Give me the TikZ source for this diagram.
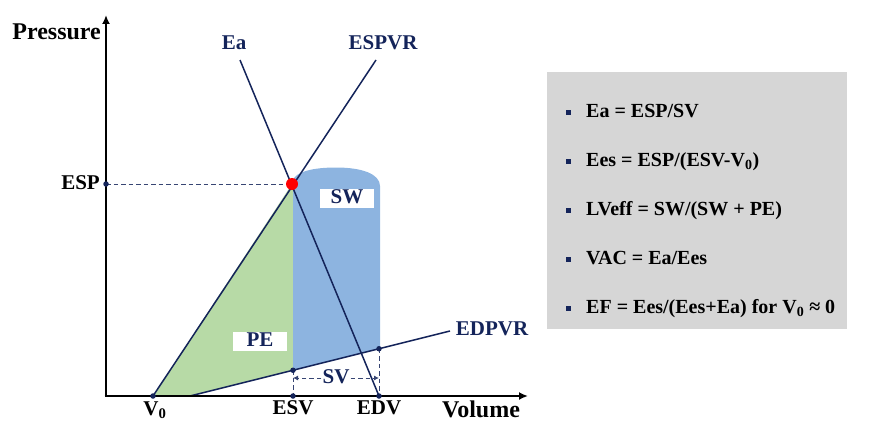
\documentclass[tikz,border=0pt]{standalone}
\usepackage{fontspec}
\setmainfont{Liberation Serif}
\usetikzlibrary{arrows.meta}
\definecolor{navy}{HTML}{14245A}
\definecolor{pegreen}{HTML}{B7DAA6}
\definecolor{swblue}{HTML}{8DB4E0}
\definecolor{boxgray}{HTML}{D6D6D6}
\tikzset{
  lbl/.style={font=\fontsize{21}{24}\selectfont\bfseries, inner sep=1pt, text height=14pt, text depth=4pt},
  biglbl/.style={lbl, font=\fontsize{24}{28}\selectfont\bfseries, text height=16pt},
  navylbl/.style={lbl, text=navy},
  curve/.style={navy, line width=1.5pt},
  axisline/.style={black, line width=2.6pt, -{Latex[length=9pt,width=8pt]}},
  dot/.style={circle, fill=navy, inner sep=0pt, minimum size=5.5pt},
  guide/.style={navy!85, line width=0.9pt, dash pattern=on 4.5pt off 3pt},
  whitebox/.style={lbl, fill=white, text=navy, minimum width=54pt, minimum height=19pt, inner sep=0pt},
  bulletsq/.style={fill=navy, minimum size=5pt, inner sep=0pt},
  item/.style={lbl, font=\fontsize{20}{24}\selectfont\bfseries, anchor=west, text=black}
}
\begin{document}
\begin{tikzpicture}[x=1pt,y=-1pt]
\path[use as bounding box] (0,0) rectangle (869,436);
% key coordinates
\coordinate (O) at (106,396);
\coordinate (ytip) at (106,15);
\coordinate (xtip) at (528,396);
\coordinate (R) at (292,184);
\coordinate (V0) at (153,396);
\coordinate (ESVx) at (293,396);
\coordinate (EDVx) at (379,396);
\coordinate (ESPy) at (106,184);
\coordinate (EsvE) at (293,370.25);
\coordinate (EdvE) at (379,348.75);
\coordinate (EdStart) at (190,396);
\coordinate (EdEnd) at (450,331);
\coordinate (EaTop) at (240,60);
\coordinate (EsTop) at (376,60);
% fills
\fill[pegreen] (V0) -- (R) -- (295,184) -- (295,370) -- (EdStart) -- cycle;
\fill[swblue] (293,184) -- (EsvE) -- (380,348.5) -- (380,186)
  .. controls (380,174) and (362,167.5) .. (336,167.5)
  .. controls (312,167.5) and (296,172) .. (293,180) -- cycle;
% gray panel
\fill[boxgray] (547,72) rectangle (847,329);
% dashed guides
\draw[guide] (ESPy) -- (R);
\draw[guide] (EsvE) -- (ESVx);
\draw[guide] (EdvE) -- (EDVx);
% curves
\draw[curve] (V0) -- (EsTop);
\draw[curve] (EaTop) -- (EDVx);
\draw[curve] (EdStart) -- (EdEnd);
% axes
\draw[axisline] (O) -- (ytip);
\draw[axisline] ([xshift=-1.3pt]O) -- (xtip);
% dots
\node[dot] (dV0) at (V0) {};
\node[dot] (dESV) at (ESVx) {};
\node[dot] (dEDV) at (EDVx) {};
\node[dot] (dESP) at (ESPy) {};
\node[dot] (dEsvE) at (EsvE) {};
\node[dot] (dEdvE) at (EdvE) {};
\node[circle, fill=red, inner sep=0pt, minimum size=12pt] (red) at (R) {};
% SV arrow
\node[lbl, text=navy, fill=white, inner sep=1pt] (sv) at (336,378) {SV};
\draw[guide, -{Latex[length=5pt,width=5pt]}] (sv.west) -- (293,378);
\draw[guide, -{Latex[length=5pt,width=5pt]}] (sv.east) -- (379,378);
% area labels
\node[whitebox] (sw) at (347,198) {SW};
\node[whitebox] (pe) at (260,341) {PE};
% axis labels
\node[biglbl, anchor=east] (pressure) at (102,34) {Pressure};
\node[biglbl] (volume) at (481,411) {Volume};
\node[lbl, anchor=east] (esp) at (101,184) {ESP};
\node[lbl] (v0l) at (155,410) {V\textsubscript{0}};
\node[lbl] (esvl) at (293,409) {ESV};
\node[lbl] (edvl) at (379,409) {EDV};
\node[navylbl] (eal) at (234,45) {Ea};
\node[navylbl] (espvrl) at (383,45) {ESPVR};
\node[navylbl] (edpvrl) at (492,330) {EDPVR};
% list
\foreach \y/\t [count=\i] in {112/{Ea = ESP/SV},
  161/{Ees = ESP/(ESV-V\textsubscript{0})},
  210/{LVeff = SW/(SW + PE)},
  259/{VAC = Ea/Ees},
  308/{EF = Ees/(Ees+Ea) for V\textsubscript{0} ≈ 0}} {
  \node[bulletsq] (b\i) at (568,\y) {};
  \node[item] (t\i) at (585,\y) {\t};
}
\end{tikzpicture}
\end{document}
